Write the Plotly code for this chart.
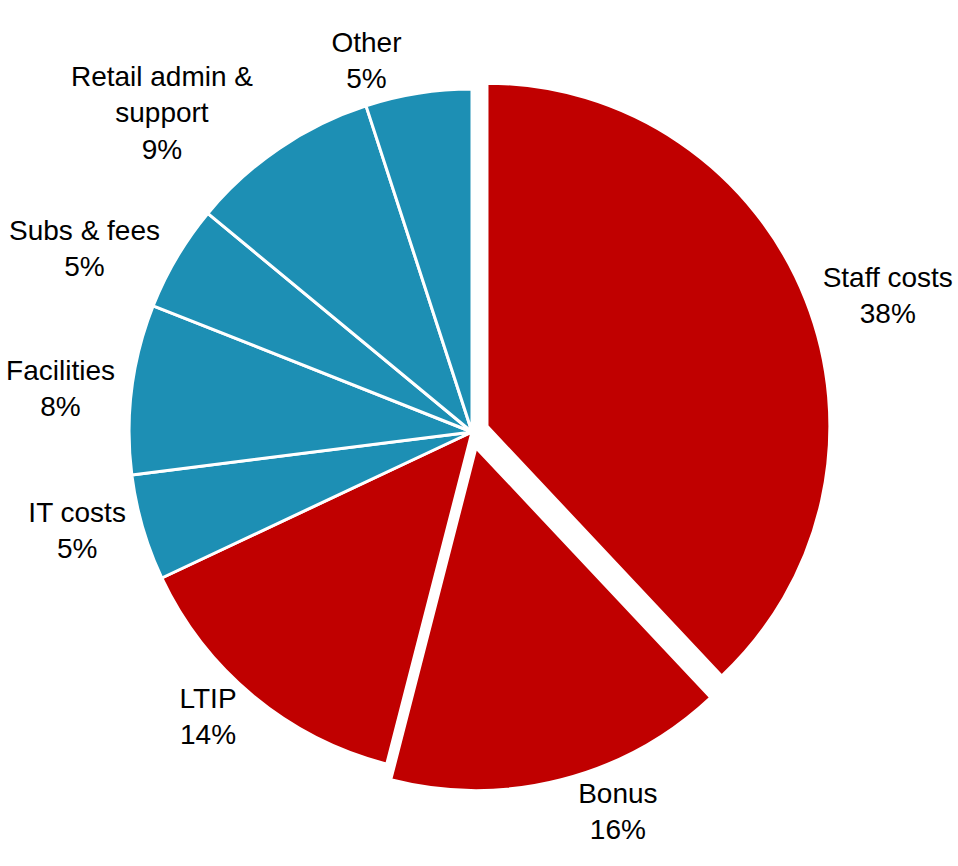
import plotly.graph_objects as go

# Cost breakdown (percent of total), listed clockwise from 12 o'clock
categories = [
    "Staff costs",
    "Bonus",
    "LTIP",
    "IT costs",
    "Facilities",
    "Subs & fees",
    "Retail admin &<br>support",
    "Other",
]
shares = [38, 16, 14, 5, 8, 5, 9, 5]
groups = ["people", "people", "people", "other", "other", "other", "other", "other"]
exploded = ["Staff costs", "Bonus"]

group_colors = {"people": "#C00000", "other": "#1D8FB4"}
PULL = 0.047

# Pie placement in paper fractions
W, H = 958, 866
cx, cy, half = 472, 432, 359
dom = dict(x=[(cx - half) / W, (cx + half) / W],
           y=[1 - (cy + half) / H, 1 - (cy - half) / H])

pulls = [PULL if c in exploded else 0.0 for c in categories]
label_font = dict(family="Liberation Sans, Arial, sans-serif", size=28, color="#000000")

# Labels for the small top slice are laid out on their own layer so that
# the outside-label collision pass does not push them off the page.
separate = ["Other"]
pos_main = ["none" if c in separate else "outside" for c in categories]
pos_top = ["outside" if c in separate else "none" for c in categories]

fig = go.Figure()

fig.add_trace(
    go.Pie(
        labels=categories,
        values=shares,
        sort=False,
        direction="clockwise",
        rotation=0,
        pull=pulls,
        marker=dict(
            colors=[group_colors[g] for g in groups],
            line=dict(color="white", width=3),
        ),
        texttemplate="%{label}<br>%{value}%",
        textposition=pos_main,
        textfont=label_font,
        hoverinfo="label+percent",
        domain=dom,
        automargin=False,
    )
)

fig.add_trace(
    go.Pie(
        labels=categories,
        values=shares,
        sort=False,
        direction="clockwise",
        rotation=0,
        pull=pulls,
        marker=dict(colors=["rgba(0,0,0,0)"] * len(shares), line=dict(width=0)),
        texttemplate="%{label}<br>%{value}%",
        textposition=pos_top,
        textfont=label_font,
        hoverinfo="skip",
        domain=dom,
        automargin=False,
    )
)

fig.update_layout(
    width=W,
    height=H,
    margin=dict(l=0, r=0, t=0, b=0),
    showlegend=False,
    paper_bgcolor="white",
    plot_bgcolor="white",
)

fig.write_html("out.html")
